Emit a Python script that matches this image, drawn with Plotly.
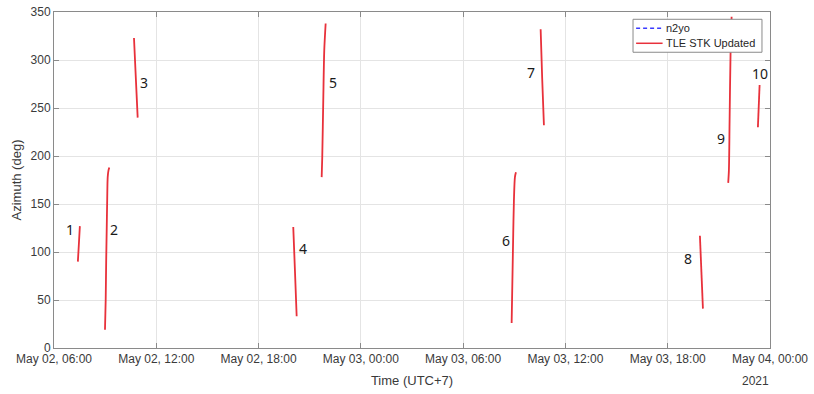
import plotly.graph_objects as go

# Azimuth tracks of each pass (UTC+7), one list per pass
pass_times = [
    ["2021-05-02 07:24:00", "2021-05-02 07:27:30", "2021-05-02 07:31:00"],
    ["2021-05-02 08:59:28", "2021-05-02 09:01:55", "2021-05-02 09:03:43", "2021-05-02 09:05:28",
     "2021-05-02 09:07:12", "2021-05-02 09:09:00", "2021-05-02 09:11:46", "2021-05-02 09:14:35"],
    ["2021-05-02 10:41:32", "2021-05-02 10:47:52", "2021-05-02 10:54:32"],
    ["2021-05-02 20:02:06", "2021-05-02 20:08:06", "2021-05-02 20:14:06"],
    ["2021-05-02 21:42:04", "2021-05-02 21:44:10", "2021-05-02 21:47:42", "2021-05-02 21:51:11",
     "2021-05-02 21:56:06"],
    ["2021-05-03 08:50:42", "2021-05-03 08:56:17", "2021-05-03 08:58:45", "2021-05-03 09:02:16",
     "2021-05-03 09:05:49"],
    ["2021-05-03 10:32:45", "2021-05-03 10:38:02", "2021-05-03 10:44:21"],
    ["2021-05-03 19:53:20", "2021-05-03 19:58:37", "2021-05-03 20:03:54"],
    ["2021-05-03 21:32:53", "2021-05-03 21:35:20", "2021-05-03 21:37:48", "2021-05-03 21:41:20",
     "2021-05-03 21:44:53"],
    ["2021-05-03 23:17:24", "2021-05-03 23:23:24"],
]
pass_azimuth = [
    [90, 108, 127],
    [19, 50, 92, 123, 154, 178, 185, 188],
    [323, 282, 240],
    [126, 80, 33],
    [178, 199, 258, 310, 338],
    [26, 119, 154, 178, 183],
    [332, 282, 232],
    [117, 79, 41],
    [172, 185, 237, 310, 345],
    [230, 274],
]

# Pass number labels and where they sit
label_text = ["1", "2", "3", "4", "5", "6", "7", "8", "9", "10"]
label_time = ["2021-05-02 06:56", "2021-05-02 09:31", "2021-05-02 11:17", "2021-05-02 20:36",
              "2021-05-02 22:22", "2021-05-03 08:30", "2021-05-03 09:59", "2021-05-03 19:11",
              "2021-05-03 21:07", "2021-05-03 23:25"]
label_azimuth = [123, 123, 277, 104, 277, 112, 287, 93, 218, 286]

# Axis ticks
x_tickvals = ["2021-05-02 06:00", "2021-05-02 12:00", "2021-05-02 18:00", "2021-05-03 00:00",
              "2021-05-03 06:00", "2021-05-03 12:00", "2021-05-03 18:00", "2021-05-04 00:00"]
x_ticktext = ["May 02, 06:00", "May 02, 12:00", "May 02, 18:00", "May 03, 00:00",
              "May 03, 06:00", "May 03, 12:00", "May 03, 18:00", "May 04, 00:00"]
y_tickvals = [0, 50, 100, 150, 200, 250, 300, 350]

# Legend entries: name, colour, dash
legend_names = ["n2yo", "TLE STK Updated"]
legend_colors = ["#3b3bff", "#e8313b"]
legend_dashes = ["4px,3px", "solid"]

RED = "#e8313b"

# Join passes into one trace, breaking the line between passes
xs, ys = [], []
for t, a in zip(pass_times, pass_azimuth):
    xs += t + [None]
    ys += a + [None]

fig = go.Figure()
fig.add_trace(go.Scatter(
    x=xs, y=ys, mode="lines", name="TLE STK Updated",
    line=dict(color=RED, width=1.8, shape="spline", smoothing=0.8),
    connectgaps=False, showlegend=False,
))

for txt, t, a in zip(label_text, label_time, label_azimuth):
    fig.add_annotation(x=t, y=a, text=txt, showarrow=False,
                       font=dict(family="Noto Sans", size=14, color="#1a1a1a"))

fig.add_annotation(x=0.980, y=-0.098, xref="paper", yref="paper", text="2021",
                   showarrow=False, xanchor="center", yanchor="middle",
                   font=dict(family="Liberation Sans", size=12, color="#3a3a3a"))

# Boxed legend in the upper-right corner, drawn over the tracks
box_x0, box_x1, box_y0, box_y1 = 0.8087, 0.9888, 0.8802, 0.9783
fig.add_shape(type="rect", xref="paper", yref="paper",
              x0=box_x0, x1=box_x1, y0=box_y0, y1=box_y1,
              fillcolor="white", line=dict(color="#8a8a8a", width=1), layer="above")
row_y = [0.9515, 0.9069]
for name, col, dash, yy in zip(legend_names, legend_colors, legend_dashes, row_y):
    fig.add_shape(type="line", xref="paper", yref="paper",
                  x0=0.8130, x1=0.8500, y0=yy, y1=yy,
                  line=dict(color=col, width=1.5, dash=dash), layer="above")
    fig.add_annotation(x=0.8525, y=yy, xref="paper", yref="paper", text=name,
                       showarrow=False, xanchor="left", yanchor="middle",
                       font=dict(family="Liberation Sans", size=11, color="#262626"))

axis_common = dict(
    automargin=False,
    showline=True, linecolor="#8a8a8a", linewidth=1, mirror="allticks",
    ticks="inside", ticklen=5, tickcolor="#8a8a8a",
    showgrid=True, gridcolor="#e4e4e4", gridwidth=1, zeroline=False,
    tickfont=dict(family="Liberation Sans", size=12, color="#3a3a3a"),
)

fig.update_layout(
    width=814, height=394,
    margin=dict(l=54, r=44, t=12, b=46),
    paper_bgcolor="white", plot_bgcolor="white",
    xaxis=dict(
        type="date", range=["2021-05-02 06:00", "2021-05-04 00:00"],
        tickvals=x_tickvals, ticktext=x_ticktext, tickangle=0,
        title=dict(text="Time (UTC+7)", standoff=10,
                   font=dict(family="Liberation Sans", size=13, color="#3a3a3a")),
        **axis_common,
    ),
    yaxis=dict(
        range=[0, 350], tickvals=y_tickvals,
        title=dict(text="Azimuth (deg)", standoff=6,
                   font=dict(family="Liberation Sans", size=13, color="#3a3a3a")),
        **axis_common,
    ),
    showlegend=False,
)

fig.write_html("out.html")
